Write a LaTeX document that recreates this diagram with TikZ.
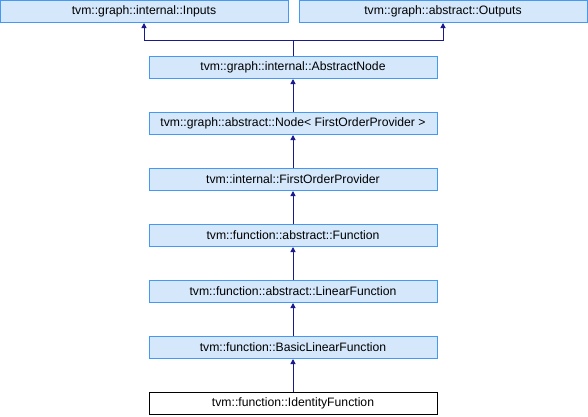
\documentclass[tikz,border=0pt]{standalone}
\usepackage{fontspec}
\setmainfont{Liberation Sans}
\usetikzlibrary{arrows.meta,positioning}
\definecolor{dxfill}{HTML}{D4E7FB}
\definecolor{dxedge}{HTML}{4499F5}
\definecolor{dxnavy}{HTML}{1A1A8C}

\begin{document}
\begin{tikzpicture}[
x=1pt, y=-1pt,
node distance=33pt,
classbox/.style={rectangle, draw=dxedge, fill=dxfill, line width=1pt, inner sep=0pt, minimum width=288pt, minimum height=22pt, font=\fontsize{12.2}{14}\selectfont},
leafbox/.style={classbox, draw=black, fill=white},
inh/.style={-{Triangle[length=5pt,width=5pt]}, line width=1pt, dxnavy}
]
\useasboundingbox (0,0) rectangle (588,416);

% --- Base classes ---
\node (inputs) [classbox] at (144,11.5) {tvm::graph::internal::Inputs};
\node (outputs) [classbox] at (443,11.5) {tvm::graph::abstract::Outputs};

% --- Inheritance chain ---
\node (absnode) [classbox] at (293,67.5) {tvm::graph::internal::AbstractNode};
\node (node) [classbox, below=of absnode] {tvm::graph::abstract::Node< FirstOrderProvider >};
\node (fop) [classbox, below=of node] {tvm::internal::FirstOrderProvider};
\node (func) [classbox, below=of fop] {tvm::function::abstract::Function};
\node (linfunc) [classbox, below=of func] {tvm::function::abstract::LinearFunction};
\node (basiclin) [classbox, below=of linfunc] {tvm::function::BasicLinearFunction};
\node (identity) [leafbox, below=of basiclin] {tvm::function::IdentityFunction};

% --- Arrows ---
\coordinate (split) at (293,40);
\draw [inh] (absnode.north) -- (split) -| (inputs.south);
\draw [inh] (split) -| (outputs.south);
\draw [inh] (node) -- (absnode);
\draw [inh] (fop) -- (node);
\draw [inh] (func) -- (fop);
\draw [inh] (linfunc) -- (func);
\draw [inh] (basiclin) -- (linfunc);
\draw [inh] (identity) -- (basiclin);

\end{tikzpicture}
\end{document}
